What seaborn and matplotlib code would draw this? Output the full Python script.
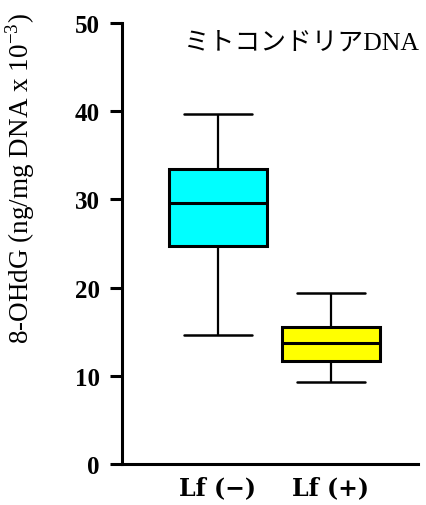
import numpy as np
import pandas as pd
import matplotlib
matplotlib.use('Agg')
import matplotlib.pyplot as plt
import seaborn as sns

# box statistics: whisker low, Q1, median, Q3, whisker high
groups = ['Lf (−)', 'Lf (+)']
lf_minus = [14.6, 24.7, 29.6, 33.4, 39.7]
lf_plus = [9.3, 11.7, 13.7, 15.5, 19.4]
box_colors = ['#00FFFF', '#FFFF00']
y_ticks = [0, 10, 20, 30, 40, 50]

df = pd.DataFrame({
    'group': [groups[0]] * len(lf_minus) + [groups[1]] * len(lf_plus),
    'value': lf_minus + lf_plus,
})

sns.set_style('white')
plt.rcParams['font.family'] = ['Liberation Serif', 'Noto Sans CJK JP', 'DejaVu Sans']
plt.rcParams['text.color'] = 'black'
plt.rcParams['axes.labelcolor'] = 'black'
plt.rcParams['xtick.color'] = 'black'
plt.rcParams['ytick.color'] = 'black'

fig = plt.figure(figsize=(4.26, 5.06), dpi=100)
ax = fig.add_axes([0.286, 0.081, 0.695, 0.872])

sns.boxplot(data=df, x='group', y='value', hue='group', palette=box_colors,
            order=groups, whis=(0, 100), width=0.87, legend=False,
            linecolor='black', linewidth=2.2, capwidths=0.6,
            whiskerprops={'linewidth': 1.6}, capprops={'linewidth': 1.8},
            medianprops={'linewidth': 2.2, 'color': 'black'},
            saturation=1, ax=ax)

ax.set_xlim(-0.85, 1.77)
ax.set_ylim(0, 50)
ax.set_yticks(y_ticks)
ax.set_yticklabels([str(t) for t in y_ticks], fontsize=18, fontweight='bold')
ax.set_xticks([0, 1])
ax.set_xticklabels(groups, fontsize=17, fontweight='bold', family='DejaVu Serif')
ax.tick_params(axis='y', direction='out', length=9, width=2.2, pad=7, left=True)
ax.tick_params(axis='x', length=0, pad=8)
ax.set_xlabel('')
ax.set_ylabel(r'8-OHdG (ng/mg DNA x 10$^{\mathregular{-3}}$)', fontsize=19.5)
ax.yaxis.set_label_coords(-0.285, 0.65)

for side in ['top', 'right']:
    ax.spines[side].set_visible(False)
for side in ['left', 'bottom']:
    ax.spines[side].set_linewidth(2.2)
    ax.spines[side].set_color('black')

ax.text(0.61, 0.955, 'ミトコンドリアDNA', transform=ax.transAxes,
        ha='center', va='center', fontsize=18.5)

fig.savefig('out.png', dpi=100)
